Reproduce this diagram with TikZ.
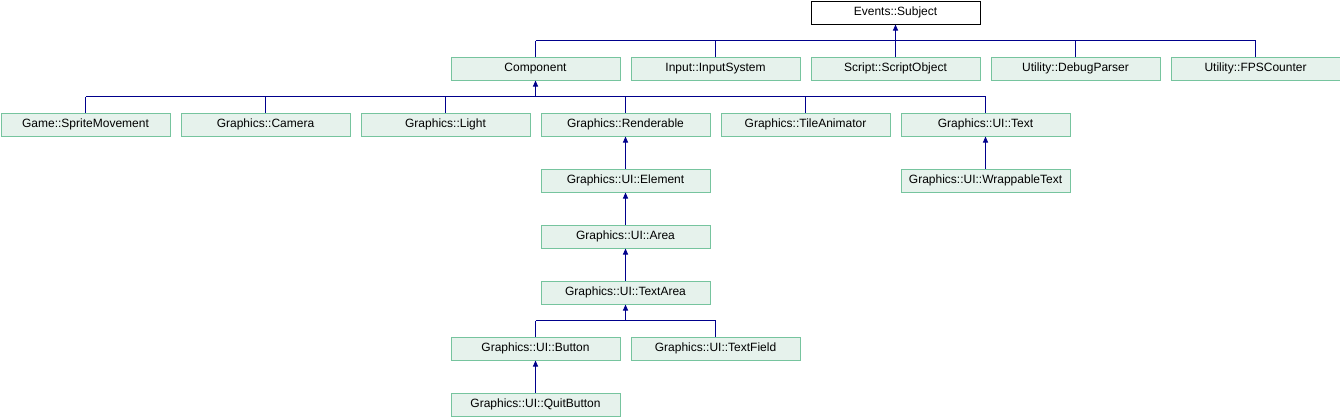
\documentclass[tikz,border=0pt]{standalone}
\usepackage{fontspec}
\setmainfont{Liberation Sans}
\usetikzlibrary{arrows.meta}
\definecolor{boxfill}{RGB}{230,242,236}
\definecolor{boxline}{RGB}{118,196,158}
\definecolor{edge}{RGB}{0,0,140}
\tikzset{
  cls/.style={draw=boxline, fill=boxfill, line width=1pt, minimum width=169pt, minimum height=23pt, inner sep=0pt, anchor=north west, font=\fontsize{12pt}{14pt}\selectfont},
  root/.style={cls, draw=black, fill=white},
  inh/.style={draw=edge, line width=1pt, -{Triangle[width=5pt,length=6pt]}},
  bus/.style={draw=edge, line width=1pt}
}
\begin{document}
\begin{tikzpicture}[x=1pt,y=1pt]
\useasboundingbox (0,0) rectangle (1340,-416);
% row 0
\node[root] (subj) at (810.5,-0.5) {Events::Subject};
% row 1
\node[cls] (comp) at (450.5,-56.5) {Component};
\node[cls] (input) at (630.5,-56.5) {Input::InputSystem};
\node[cls] (script) at (810.5,-56.5) {Script::ScriptObject};
\node[cls] (debug) at (990.5,-56.5) {Utility::DebugParser};
\node[cls] (fps) at (1170.5,-56.5) {Utility::FPSCounter};
% row 2
\node[cls] (sprite) at (0.5,-112.5) {Game::SpriteMovement};
\node[cls] (camera) at (180.5,-112.5) {Graphics::Camera};
\node[cls] (light) at (360.5,-112.5) {Graphics::Light};
\node[cls] (rend) at (540.5,-112.5) {Graphics::Renderable};
\node[cls] (tile) at (720.5,-112.5) {Graphics::TileAnimator};
\node[cls] (text) at (900.5,-112.5) {Graphics::UI::Text};
% rows 3..7
\node[cls] (elem) at (540.5,-168.5) {Graphics::UI::Element};
\node[cls] (wrap) at (900.5,-168.5) {Graphics::UI::WrappableText};
\node[cls] (area) at (540.5,-224.5) {Graphics::UI::Area};
\node[cls] (tarea) at (540.5,-280.5) {Graphics::UI::TextArea};
\node[cls] (button) at (450.5,-336.5) {Graphics::UI::Button};
\node[cls] (tfield) at (630.5,-336.5) {Graphics::UI::TextField};
\node[cls] (quit) at (450.5,-392.5) {Graphics::UI::QuitButton};

% bus 1
\coordinate (b1) at (subj.south |- 0,-40.5);
\draw[bus] (comp.north |- b1) -- (fps.north |- b1);
\foreach \c in {comp,input,script,debug,fps} \draw[bus] (\c.north) -- (\c.north |- b1);
\draw[inh] (b1) -- (subj.south);
% bus 2
\coordinate (b2) at (comp.south |- 0,-96.5);
\draw[bus] (sprite.north |- b2) -- (text.north |- b2);
\foreach \c in {sprite,camera,light,rend,tile,text} \draw[bus] (\c.north) -- (\c.north |- b2);
\draw[inh] (b2) -- (comp.south);
% chains
\draw[inh] (elem.north) -- (rend.south);
\draw[inh] (wrap.north) -- (text.south);
\draw[inh] (area.north) -- (elem.south);
\draw[inh] (tarea.north) -- (area.south);
% bus 3
\coordinate (b3) at (tarea.south |- 0,-320.5);
\draw[bus] (button.north |- b3) -- (tfield.north |- b3);
\foreach \c in {button,tfield} \draw[bus] (\c.north) -- (\c.north |- b3);
\draw[inh] (b3) -- (tarea.south);
\draw[inh] (quit.north) -- (button.south);
\end{tikzpicture}
\end{document}
